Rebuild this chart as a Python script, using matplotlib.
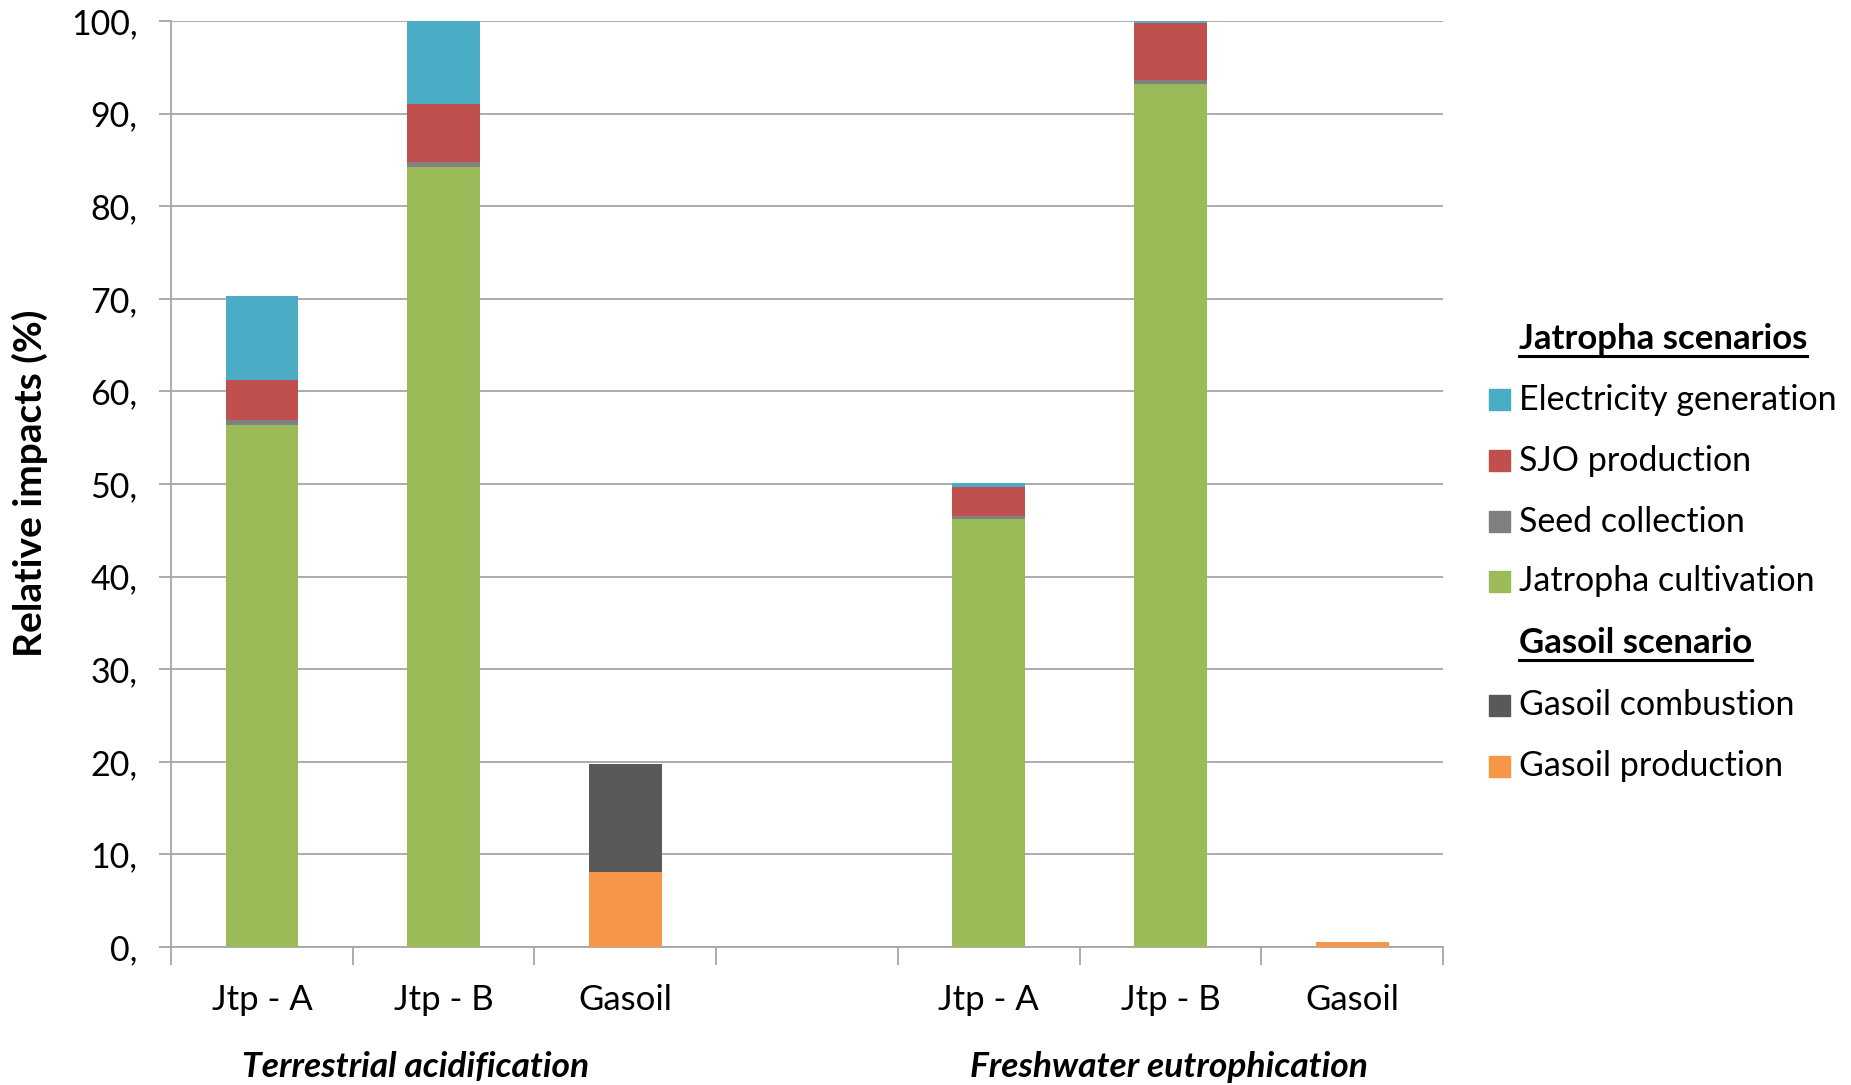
import matplotlib
matplotlib.use("Agg")
import matplotlib.pyplot as plt
import numpy as np
from matplotlib.patches import Rectangle
from matplotlib.lines import Line2D

plt.rcParams['font.family'] = ['Lato', 'DejaVu Sans']

# slot positions: three bars per impact category, one empty slot between groups
positions = [0, 1, 2, 4, 5, 6]
bar_labels = ["Jtp - A", "Jtp - B", "Gasoil", "Jtp - A", "Jtp - B", "Gasoil"]
group_labels = ["Terrestrial acidification", "Freshwater eutrophication"]

jatropha_cultivation = [56.4, 84.2, 0.0, 46.2, 93.2, 0.0]
seed_collection = [0.5, 0.6, 0.0, 0.3, 0.4, 0.0]
sjo_production = [4.3, 6.2, 0.0, 3.2, 6.2, 0.0]
electricity_generation = [9.1, 9.0, 0.0, 0.4, 0.2, 0.0]
gasoil_production = [0.0, 0.0, 8.1, 0.0, 0.0, 0.5]
gasoil_combustion = [0.0, 0.0, 11.7, 0.0, 0.0, 0.0]

# bottom-up stacking order
series = [
    ("Jatropha cultivation", jatropha_cultivation, "#9BBB59"),
    ("Seed collection", seed_collection, "#808080"),
    ("SJO production", sjo_production, "#C0504D"),
    ("Electricity generation", electricity_generation, "#4BACC6"),
    ("Gasoil production", gasoil_production, "#F79646"),
    ("Gasoil combustion", gasoil_combustion, "#595959"),
]

fig = plt.figure(figsize=(18.51, 10.85), dpi=100)
ax = fig.add_axes([0.0924, 0.1272, 0.6872, 0.8534])

bottom = np.zeros(len(positions))
for name, vals, col in series:
    vals = np.array(vals)
    ax.bar(positions, vals, width=0.4, bottom=bottom, color=col,
           edgecolor="none", zorder=3)
    bottom += vals

ax.set_xlim(-0.5, 6.5)
ax.set_ylim(0, 100)
ax.set_yticks(np.arange(0, 101, 10))
ax.yaxis.set_major_formatter(matplotlib.ticker.FuncFormatter(lambda v, p: f"{v:.0f},"))
ax.yaxis.grid(True, color="#A6A6A6", linewidth=1.3, zorder=0)

ax.set_xticks(positions)
ax.set_xticklabels(bar_labels)
ax.set_xticks(np.arange(-0.5, 6.6, 1), minor=True)
ax.tick_params(axis="x", which="major", length=0, pad=27, labelsize=25)
ax.tick_params(axis="x", which="minor", length=13, width=1.3, color="#A6A6A6")
ax.tick_params(axis="y", length=9, width=1.3, color="#A6A6A6", pad=15, labelsize=24.5)

for s in ["top", "right"]:
    ax.spines[s].set_visible(False)
for s in ["left", "bottom"]:
    ax.spines[s].set_color("#A6A6A6")
    ax.spines[s].set_linewidth(1.3)

W, H = 1851, 1085
fig.text(30 / W, 1 - 483 / H, "Relative impacts (%)", rotation=90,
         ha="center", va="center", fontsize=28, fontweight="bold")

ax.text(0.844, -0.13, group_labels[0], transform=ax.get_xaxis_transform(),
        ha="center", va="center", fontsize=25.5, fontweight="bold", style="italic")
ax.text(4.99, -0.13, group_labels[1], transform=ax.get_xaxis_transform(),
        ha="center", va="center", fontsize=25.5, fontweight="bold", style="italic")

# legend drawn by hand so the two section titles can be underlined
sq = 21
box_x = 1489
text_x = 1519
rows = [
    ("title", "Jatropha scenarios", None, 339),
    ("item", "Electricity generation", "#4BACC6", 400),
    ("item", "SJO production", "#C0504D", 461),
    ("item", "Seed collection", "#808080", 522),
    ("item", "Jatropha cultivation", "#9BBB59", 581),
    ("title", "Gasoil scenario", None, 643),
    ("item", "Gasoil combustion", "#595959", 705),
    ("item", "Gasoil production", "#F79646", 766),
]
titles = []
for kind, label, col, y in rows:
    fy = 1 - y / H
    if kind == "title":
        t = fig.text(text_x / W, fy, label, ha="left", va="center",
                     fontsize=25, fontweight="bold")
        titles.append(t)
    else:
        fig.patches.append(Rectangle((box_x / W, fy - sq / 2 / H), sq / W, sq / H,
                                     transform=fig.transFigure, color=col, figure=fig))
        fig.text(text_x / W, fy, label, ha="left", va="center", fontsize=24.5)

fig.canvas.draw()
renderer = fig.canvas.get_renderer()
for t in titles:
    bb = t.get_window_extent(renderer).transformed(fig.transFigure.inverted())
    yline = bb.y0 - 1 / H
    fig.add_artist(Line2D([bb.x0, bb.x1], [yline, yline], color="black",
                          linewidth=2.2, transform=fig.transFigure))

fig.savefig("out.png", dpi=100)
